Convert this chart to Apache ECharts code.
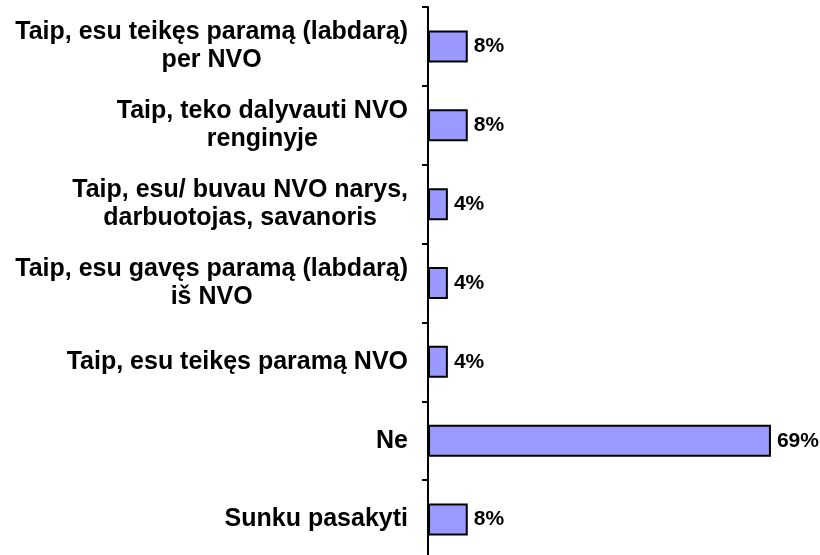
<!DOCTYPE html>
<html><head><meta charset="utf-8">
<script src="https://cdn.jsdelivr.net/npm/echarts@6/dist/echarts.min.js"></script>
<style>html,body{margin:0;padding:0;background:#fff}#c{width:820px;height:555px}</style>
</head><body><div id="c"></div>
<script>
const categories = [
  "Taip, esu teikęs paramą (labdarą)\nper NVO",
  "Taip, teko dalyvauti NVO\nrenginyje",
  "Taip, esu/ buvau NVO narys,\ndarbuotojas, savanoris",
  "Taip, esu gavęs paramą (labdarą)\niš NVO",
  "Taip, esu teikęs paramą NVO",
  "Ne",
  "Sunku pasakyti"
];
const values = [8, 8, 4, 4, 4, 69, 8];

const chart = echarts.init(document.getElementById('c'), null, {renderer: 'canvas'});
chart.setOption({
  animation: false,
  grid: {left: 428, top: 7, width: 497, height: 552, containLabel: false, outerBoundsMode: 'none'},
  xAxis: {type: 'value', min: 0, max: 100, show: false},
  yAxis: {
    type: 'category', data: categories, inverse: true,
    axisLine: {show: true, lineStyle: {color: '#000', width: 2}},
    axisTick: {show: true, length: 6, lineStyle: {color: '#000', width: 2}},
    axisLabel: {
      margin: 20, align: 'right',
      formatter: function (v) {
        return v.split('\n').map(s => '{c|' + s + '}').join('\n');
      },
      rich: {c: {align: 'center', fontFamily: 'Liberation Sans, Arial', fontWeight: 'bold', fontSize: 25, color: '#000', lineHeight: 28}}
    },
    splitLine: {show: false}
  },
  series: [{
    type: 'bar', data: values, barWidth: 32,
    itemStyle: {color: '#9999FF', borderColor: '#000', borderWidth: 2},
    label: {show: true, position: 'right', distance: 6, formatter: '{c}%',
      fontFamily: 'Liberation Sans, Arial', fontWeight: 'bold', fontSize: 21, color: '#000'}
  }]
});
</script></body></html>
